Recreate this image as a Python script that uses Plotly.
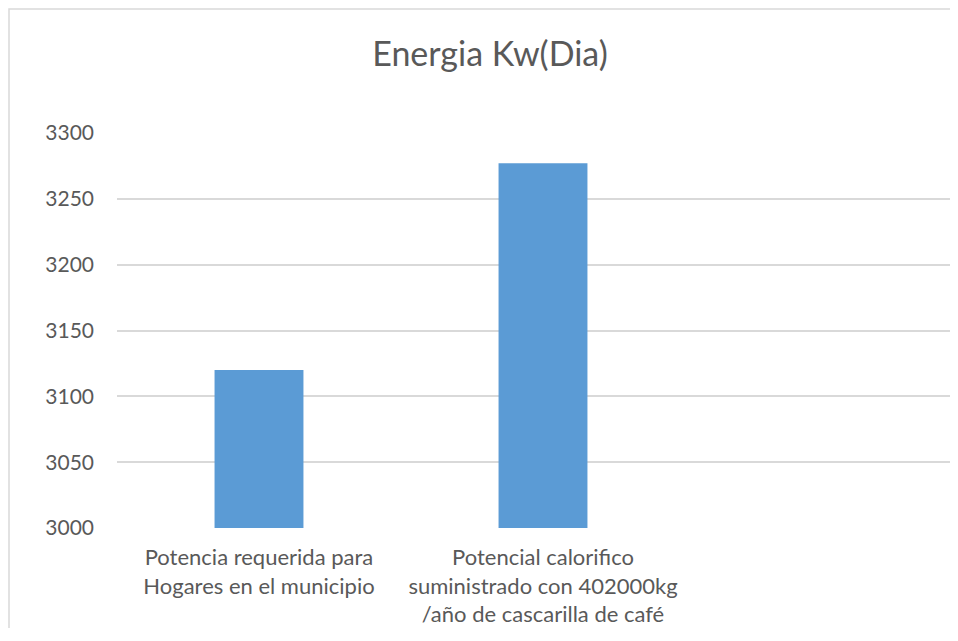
import plotly.graph_objects as go

# Data
categorias = [
    "Potencia requerida para<br>Hogares en el municipio",
    "Potencial calorifico<br>suministrado con 402000kg<br>/año de cascarilla de café",
]
energia = [3120, 3277]
y_ticks = [3000, 3050, 3100, 3150, 3200, 3250, 3300]

# page has an 8px body margin, so the figure is sized to fit without scrollbars
W, H = 950, 620
L, T = 109, 125
plot_w = W - L
plot_h = 395
B = H - T - plot_h
cat_px = 284  # pixel width of one category slot

fig = go.Figure()
fig.add_trace(go.Bar(
    x=categorias,
    y=energia,
    marker=dict(color="#5b9bd5", line=dict(width=0)),
    width=0.313,
))

fig.update_layout(
    width=W,
    height=H,
    paper_bgcolor="white",
    plot_bgcolor="white",
    margin=dict(l=L, r=0, t=T, b=B),
    showlegend=False,
    font=dict(family="Lato", color="#595959"),
    title=dict(
        text="Energia Kw(Dia)",
        x=482 / W, xanchor="center",
        y=1 - 46 / H, yanchor="middle",
        font=dict(family="Lato", size=34, color="#595959"),
    ),
)
fig.update_xaxes(
    range=[-0.5, -0.5 + plot_w / cat_px],
    showgrid=False,
    showline=False,
    ticks="",
    tickfont=dict(size=22, color="#595959"),
    ticklabelstandoff=14,
)
fig.update_yaxes(
    range=[3000, 3300],
    tickvals=y_ticks,
    showgrid=True,
    gridcolor="#d9d9d9",
    gridwidth=1.5,
    zeroline=False,
    showline=False,
    ticks="",
    tickfont=dict(size=21, color="#595959"),
    ticklabelstandoff=22,
)

# chart area border: only left and top edges show, the rest is cropped
bx = (1 - L) / plot_w
by = 1 + (T - 1) / plot_h
fig.add_shape(
    type="path", xref="paper", yref="paper",
    path=f"M {bx},-0.5 L {bx},{by} L 1.2,{by}",
    line=dict(color="#d9d9d9", width=1.5),
    layer="below",
)

fig.write_html("out.html")
